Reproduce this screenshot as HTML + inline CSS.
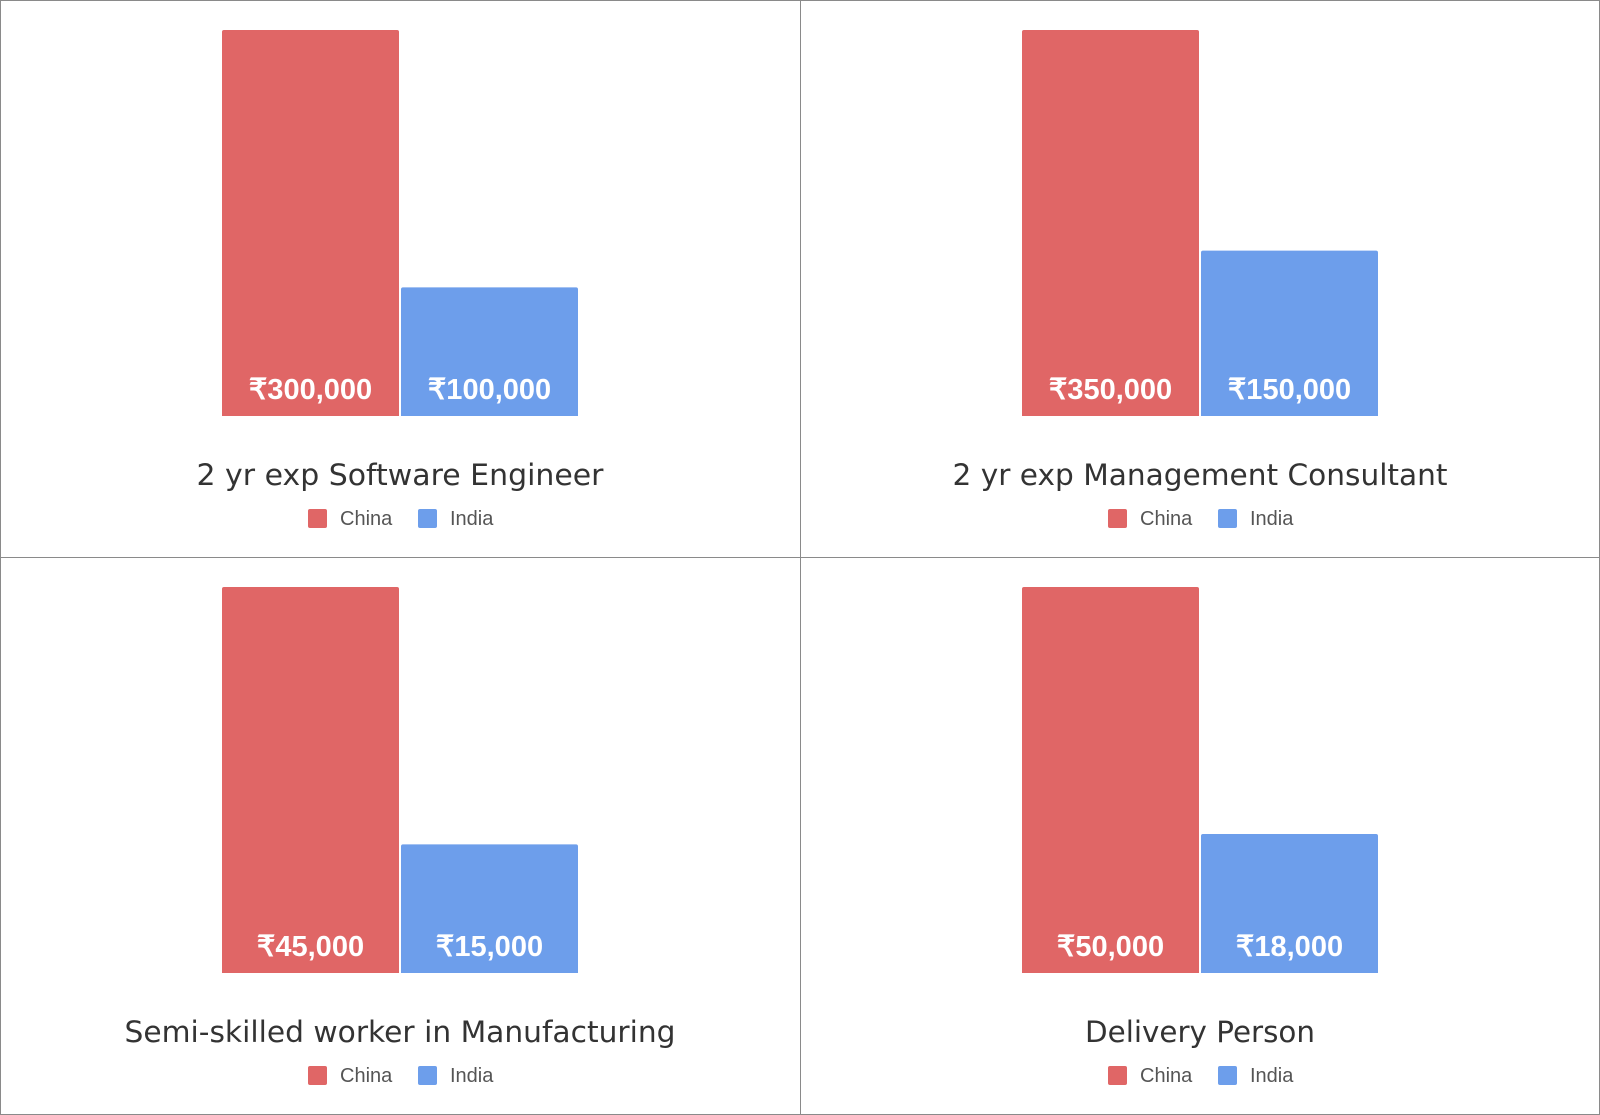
<!DOCTYPE html>
<html><head><meta charset="utf-8"><style>
html,body{margin:0;padding:0;background:#fff;}
svg{display:block;font-family:"Liberation Sans",sans-serif;}
</style></head><body>
<svg id="chart" width="1600" height="1115" viewBox="0 0 1600 1115" xmlns="http://www.w3.org/2000/svg">
<rect x="0.5" y="0.5" width="1599" height="1114" fill="#fff" stroke="#8a8a8a"/>
<line x1="800.5" y1="0" x2="800.5" y2="1115" stroke="#8a8a8a"/>
<line x1="0" y1="557.5" x2="1600" y2="557.5" stroke="#8a8a8a"/>
</svg>
<script>
const titles = ["2 yr exp Software Engineer", "2 yr exp Management Consultant", "Semi-skilled worker in Manufacturing", "Delivery Person"];
const chinaValues = [300000, 350000, 45000, 50000];
const indiaValues = [100000, 150000, 15000, 18000];
const seriesNames = ["China", "India"];
const seriesColors = ["#e06666", "#6d9eeb"];
const titleWidths = [407, 495, 551, 230];

const svg = document.getElementById('chart');
const NS = 'http://www.w3.org/2000/svg';
function mk(tag, attrs, parent) {
  const e = document.createElementNS(NS, tag);
  for (const k in attrs) e.setAttribute(k, attrs[k]);
  (parent || svg).appendChild(e);
  return e;
}
function barPath(x, y, w, h, r) {
  return `M${x},${y+h}V${y+r}Q${x},${y} ${x+r},${y}H${x+w-r}Q${x+w},${y} ${x+w},${y+r}V${y+h}Z`;
}
for (let i = 0; i < 4; i++) {
  const ox = (i % 2) * 800, oy = Math.floor(i / 2) * 557;
  const g = mk('g', {});
  
  
  const base = oy + 416, top = oy + 30;
  const maxV = Math.max(chinaValues[i], indiaValues[i]);
  const yScale = v => base - (v / maxV) * (base - top);
  const vals = [chinaValues[i], indiaValues[i]];
  const xs = [ox + 222, ox + 401];
  const bw = 177;
  for (let s = 0; s < 2; s++) {
    const y = yScale(vals[s]);
    const b = mk('path', {d: barPath(xs[s], y, bw, base - y, 2), fill: seriesColors[s]}, g);
    
    
    const t = mk('text', {x: xs[s] + bw / 2, y: base - 17, 'text-anchor': 'middle', fill: '#fff', 'font-size': 29, 'font-weight': 'bold'}, g);
    t.textContent = '₹' + vals[s].toLocaleString('en-US');
    
    
  }
  const tt = mk('text', {x: ox + 400, y: oy + 485, 'text-anchor': 'middle', fill: '#333', 'font-size': 29, 'font-family': '"DejaVu Sans",sans-serif', textLength: titleWidths[i], lengthAdjust: 'spacingAndGlyphs'}, g);
  tt.textContent = titles[i];
  
  
  const lx = [ox + 308, ox + 418];
  for (let s = 0; s < 2; s++) {
    const lg = mk('g', {}, g);
    
    
    mk('rect', {x: lx[s], y: oy + 509, width: 19, height: 19, rx: 2, fill: seriesColors[s]}, lg);
    const lt = mk('text', {x: lx[s] + 32, y: oy + 525, fill: '#555', 'font-size': 20}, lg);
    lt.textContent = seriesNames[s];
  }
}
</script>
</body></html>
